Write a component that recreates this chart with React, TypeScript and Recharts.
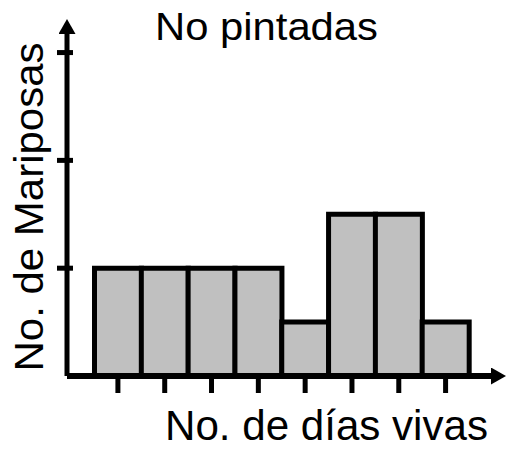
import { BarChart, Bar, XAxis, YAxis, Label, Customized } from 'recharts'

const dayBins = ['1', '2', '3', '4', '5', '6', '7', '8']
const butterflies = [2, 2, 2, 2, 1, 3, 3, 1]
const yTicks = [2, 4, 6]

const title = 'No pintadas'
const xLabel = 'No. de días vivas'
const yLabel = 'No. de Mariposas'

const chartData = dayBins.map((bin, i) => ({ bin, count: butterflies[i] }))

const font = '"Liberation Sans", Arial, sans-serif'

function YTick({ x, y }: any) {
  // short mark crossing the axis line
  return <line x1={x - 10} x2={x + 6} y1={y} y2={y} stroke="#000" strokeWidth={5} />
}

function NoLabel() {
  return <g />
}

function Title() {
  return (
    <text x={155} y={40} fontFamily={font} fontSize={38} fill="#000" textLength={223} lengthAdjust="spacingAndGlyphs">
      {title}
    </text>
  )
}

export default function App() {
  return (
    <div style={{ position: 'absolute', left: 0, top: 0, background: '#fff' }}>
      <svg width={0} height={0} style={{ position: 'absolute' }}>
        <defs>
          <marker id="arrowHead" markerUnits="userSpaceOnUse" markerWidth={15} markerHeight={17}
            viewBox="0 0 15 17" refX={10} refY={8.5} orient="auto-start-reverse">
            <path d="M0,0 L15,8.5 L0,17 z" fill="#000" />
          </marker>
        </defs>
      </svg>
      <BarChart width={506} height={449} data={chartData} barCategoryGap={0}
        margin={{ top: 24, right: 5, bottom: 0, left: 0 }}>
        <XAxis dataKey="bin" height={73} padding={{ left: 27.5, right: 32 }}
          axisLine={{ stroke: '#000', strokeWidth: 6, markerEnd: 'url(#arrowHead)' }}
          tickLine={{ stroke: '#000', strokeWidth: 5 }} tickSize={17} tick={<NoLabel />}>
          <Label content={() => (
            <text x={165} y={440} fontFamily={font} fontSize={42} fill="#000" textLength={323} lengthAdjust="spacingAndGlyphs">
              {xLabel}
            </text>
          )} />
        </XAxis>
        <YAxis width={67} domain={[0, 6.53]} ticks={yTicks} allowDataOverflow
          axisLine={{ stroke: '#000', strokeWidth: 5, markerStart: 'url(#arrowHead)' }}
          tickLine={false} tickSize={0} tickMargin={0} tick={<YTick />}>
          <Label content={() => (
            <text x={43} y={207} transform="rotate(-90, 43, 207)" textAnchor="middle" fontFamily={font}
              fontSize={40} fill="#000" textLength={329} lengthAdjust="spacingAndGlyphs">
              {yLabel}
            </text>
          )} />
        </YAxis>
        <Bar dataKey="count" fill="#c0c0c0" stroke="#000" strokeWidth={5} isAnimationActive={false} />
        <Customized component={Title} />
      </BarChart>
    </div>
  )
}
